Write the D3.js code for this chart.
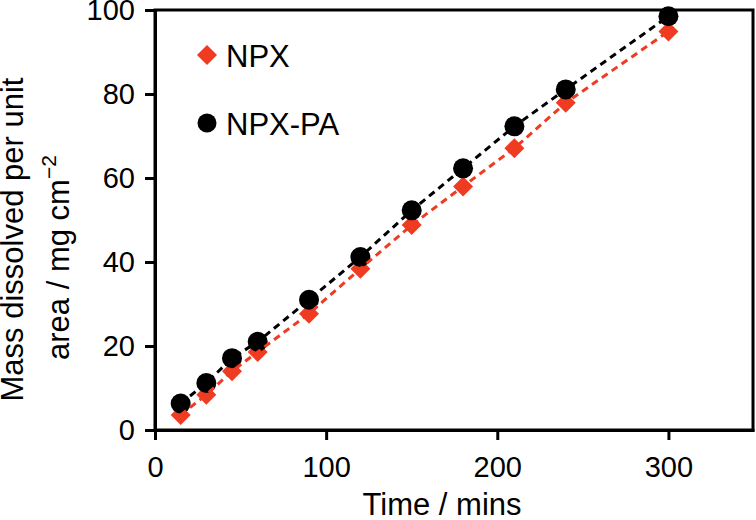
<!DOCTYPE html>
<html><head><meta charset="utf-8">
<script src="https://cdn.jsdelivr.net/npm/d3@7"></script>
<style>body{margin:0;background:#fff}svg{display:block}text{font-family:"Liberation Sans",Arial,sans-serif;fill:#000}</style>
</head><body>
<svg id="c" width="756" height="520"></svg>
<script>
const times = [15, 30, 45, 60, 90, 120, 150, 180, 210, 240, 300];
const npx = [3.6, 8.4, 14.0, 18.6, 27.7, 38.4, 48.8, 58.0, 67.1, 77.9, 94.9];
const npxPA = [6.3, 11.2, 17.1, 21.0, 31.0, 41.2, 52.3, 62.3, 72.3, 81.1, 98.5];
const xTicks = [0, 100, 200, 300];
const yTicks = [0, 20, 40, 60, 80, 100];
const seriesNames = ["NPX", "NPX-PA"];
const red = "#ef3b22";

const svg = d3.select("#c");
const L = 155, R = 754, T = 10, B = 430;
const x = d3.scaleLinear().domain([0, 350]).range([L, R]);
const y = d3.scaleLinear().domain([0, 100]).range([B, T]);

// frame
svg.append("rect").attr("x", L).attr("y", T).attr("width", R - L - 1).attr("height", B - T)
  .attr("fill", "none").attr("stroke", "#000").attr("stroke-width", 3);

const xAxis = svg.append("g").attr("transform", `translate(0,${B})`)
  .call(d3.axisBottom(x).tickValues(xTicks).tickSize(10).tickSizeOuter(0).tickPadding(16).tickFormat(d3.format("d")));
const yAxis = svg.append("g").attr("transform", `translate(${L},0)`)
  .call(d3.axisLeft(y).tickValues(yTicks).tickSize(10).tickSizeOuter(0).tickPadding(10).tickFormat(d3.format("d")));
[xAxis, yAxis].forEach(g => {
  g.select(".domain").attr("stroke-width", 3);
  g.selectAll(".tick line").attr("stroke-width", 3);
  g.selectAll(".tick text").style("font-size", "29px").style("font-family", '"Liberation Sans",Arial,sans-serif');
});

const ptsNPX = times.map((t, i) => [t, npx[i]]);
const ptsPA = times.map((t, i) => [t, npxPA[i]]);
const line = d3.line().x(d => x(d[0])).y(d => y(d[1]));
const diamond = d3.symbol().type(d3.symbolSquare).size(200);

// red diamonds
svg.append("g").selectAll("path").data(ptsNPX).join("path")
  .attr("d", diamond).attr("fill", red)
  .attr("transform", d => `translate(${x(d[0])},${y(d[1])}) rotate(45)`);
// black circles
svg.append("g").selectAll("circle").data(ptsPA).join("circle")
  .attr("cx", d => x(d[0])).attr("cy", d => y(d[1])).attr("r", 10).attr("fill", "#000");
// dashed lines
svg.append("path").datum(ptsPA).attr("d", line).attr("fill", "none")
  .attr("stroke", "#000").attr("stroke-width", 3).attr("stroke-dasharray", "7,5");
svg.append("path").datum(ptsNPX).attr("d", line).attr("fill", "none")
  .attr("stroke", red).attr("stroke-width", 3).attr("stroke-dasharray", "7,5");

// legend
svg.append("path").attr("d", diamond).attr("fill", red).attr("transform", "translate(207,55) rotate(45)");
svg.append("text").attr("x", 226).attr("y", 66.5).style("font-size", "31px").text(seriesNames[0]);
svg.append("circle").attr("cx", 207).attr("cy", 123).attr("r", 9.5).attr("fill", "#000");
svg.append("text").attr("x", 226).attr("y", 135).style("font-size", "31px").text(seriesNames[1]);

// axis titles
svg.append("text").attr("x", 362.5).attr("y", 515)
  .style("font-size", "31px").text("Time / mins");
const yl = svg.append("g").attr("transform", "rotate(-90)");
yl.append("text").attr("x", -401.5).attr("y", 23)
  .style("font-size", "31px").text("Mass dissolved per unit");
const t2 = yl.append("text").attr("x", -360).attr("y", 69).style("font-size", "31px");
t2.append("tspan").text("area / mg cm");
t2.append("tspan").attr("dy", -13).style("font-size", "21px").text("−2");
</script>
</body></html>
